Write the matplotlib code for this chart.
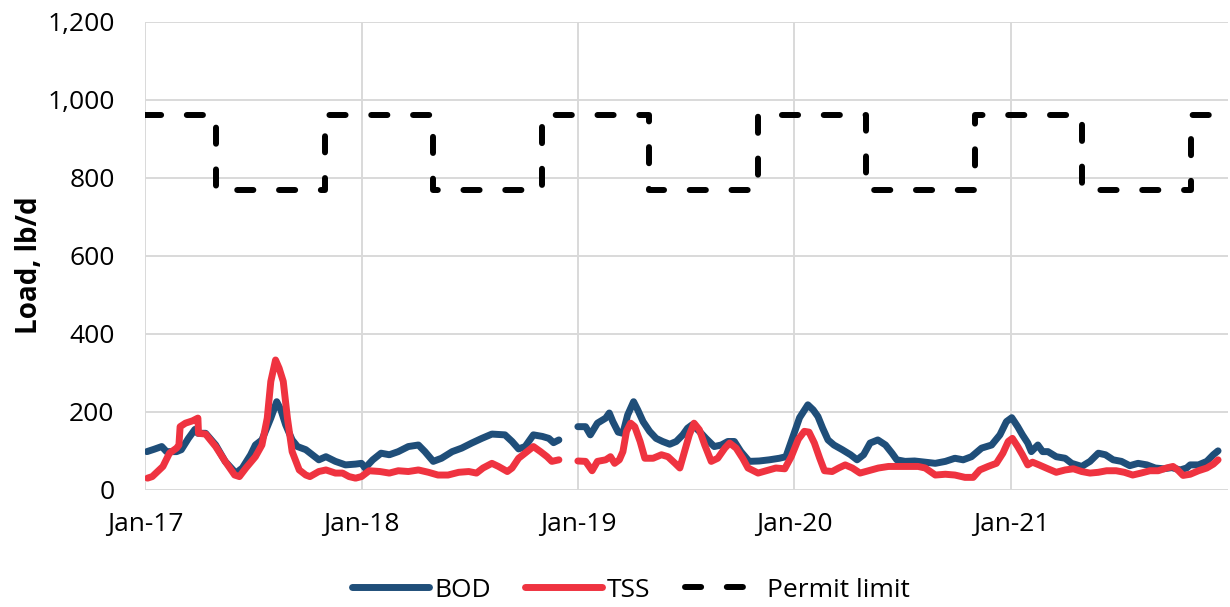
import numpy as np
import pandas as pd
import matplotlib
matplotlib.use("Agg")
import matplotlib.pyplot as plt
import matplotlib.dates as mdates
from matplotlib.ticker import FuncFormatter

# daily effluent loads, lb/d (sampled along the record)
bod_dates = [
    "2017-01-04", "2017-01-16", "2017-01-29", "2017-02-06", "2017-02-23", "2017-03-03", "2017-03-15",
    "2017-03-26", "2017-03-31", "2017-04-13", "2017-04-30", "2017-05-16", "2017-06-03",
    "2017-06-14", "2017-06-28", "2017-07-06", "2017-07-17", "2017-08-01", "2017-08-11",
    "2017-08-18", "2017-08-26", "2017-09-06", "2017-09-15", "2017-09-29", "2017-10-10",
    "2017-10-21", "2017-11-02", "2017-11-18", "2017-12-05", "2017-12-22", "2018-01-01",
    "2018-01-07", "2018-01-20", "2018-02-03", "2018-02-17", "2018-03-04", "2018-03-21",
    "2018-04-07", "2018-04-18", "2018-05-02", "2018-05-16", "2018-06-03", "2018-06-19",
    "2018-07-06", "2018-07-23", "2018-08-09", "2018-08-31", "2018-09-12", "2018-09-23",
    "2018-10-04", "2018-10-18", "2018-11-02", "2018-11-13", "2018-11-21", "2018-11-30",
    "2019-01-01", "2019-01-14", "2019-01-22", "2019-02-03", "2019-02-17", "2019-02-23",
    "2019-03-01", "2019-03-10", "2019-03-18", "2019-03-26", "2019-04-05", "2019-04-12",
    "2019-04-21", "2019-05-02", "2019-05-13", "2019-05-24", "2019-06-05", "2019-06-16",
    "2019-06-27", "2019-07-05", "2019-07-13", "2019-07-25", "2019-08-05", "2019-08-19",
    "2019-08-31", "2019-09-11", "2019-09-22", "2019-10-03", "2019-10-17", "2019-11-03",
    "2019-11-20", "2019-12-07", "2019-12-18", "2019-12-30", "2020-01-10", "2020-01-24",
    "2020-02-02", "2020-02-10", "2020-02-18", "2020-02-27", "2020-03-08", "2020-03-22",
    "2020-04-05", "2020-04-16", "2020-04-27", "2020-05-08", "2020-05-21", "2020-06-03",
    "2020-06-14", "2020-06-22", "2020-07-06", "2020-07-22", "2020-08-09", "2020-08-26",
    "2020-09-12", "2020-09-28", "2020-10-12", "2020-10-26", "2020-11-12", "2020-11-29",
    "2020-12-13", "2020-12-24", "2021-01-02", "2021-01-12", "2021-01-20", "2021-01-29",
    "2021-02-04", "2021-02-15", "2021-02-23", "2021-03-04", "2021-03-18", "2021-04-02",
    "2021-04-13", "2021-04-30", "2021-05-14", "2021-05-28", "2021-06-09", "2021-06-22",
    "2021-07-06", "2021-07-20", "2021-08-03", "2021-08-18", "2021-09-01", "2021-09-15",
    "2021-09-29", "2021-10-13", "2021-10-24", "2021-10-30", "2021-11-13", "2021-11-27",
    "2021-12-08", "2021-12-16",
]
bod_vals = [
    98, 104, 111, 98, 98, 103, 132, 155, 145, 145, 115, 73, 43,
    56, 90, 115, 128, 184, 226, 205, 167, 128, 111, 103, 90,
    77, 85, 73, 64, 66, 68, 56, 77, 94, 90, 98, 111,
    115, 98, 73, 81, 98, 107, 120, 132, 143, 141, 124, 105,
    111, 141, 137, 132, 121, 128, 162, 162, 141, 171, 184, 197,
    175, 148, 145, 192, 226, 205, 175, 150, 132, 124, 117, 124,
    141, 158, 167, 150, 132, 111, 115, 124, 124, 98, 73, 74,
    77, 81, 85, 137, 185, 218, 205, 188, 158, 128, 115, 103,
    90, 77, 90, 120, 128, 115, 94, 77, 73, 74, 71, 68,
    73, 81, 77, 85, 107, 115, 141, 175, 185, 162, 141, 120,
    98, 115, 98, 98, 85, 81, 68, 60, 73, 94, 90, 77,
    73, 62, 68, 64, 56, 54, 57, 51, 56, 64, 64, 73,
    90, 100,
]

tss_dates = [
    "2017-01-05", "2017-01-13", "2017-01-31", "2017-02-11", "2017-02-23", "2017-02-27",
    "2017-03-01", "2017-03-10", "2017-03-22", "2017-03-31", "2017-04-01", "2017-04-13",
    "2017-04-30", "2017-05-16", "2017-06-01", "2017-06-09", "2017-06-20", "2017-07-06",
    "2017-07-17", "2017-07-26", "2017-08-01", "2017-08-09", "2017-08-15", "2017-08-22",
    "2017-08-29", "2017-09-06", "2017-09-18", "2017-09-29", "2017-10-06", "2017-10-21",
    "2017-11-02", "2017-11-18", "2017-11-30", "2017-12-11", "2017-12-22", "2018-01-01",
    "2018-01-14", "2018-02-01", "2018-02-17", "2018-03-04", "2018-03-21", "2018-04-07",
    "2018-04-24", "2018-05-10", "2018-05-27", "2018-06-14", "2018-07-01", "2018-07-14",
    "2018-07-25", "2018-08-09", "2018-08-20", "2018-09-04", "2018-09-12", "2018-09-23",
    "2018-10-07", "2018-10-18", "2018-10-30", "2018-11-10", "2018-11-18", "2018-11-30",
    "2019-01-01", "2019-01-14", "2019-01-25", "2019-02-03", "2019-02-17", "2019-02-25",
    "2019-03-04", "2019-03-12", "2019-03-18", "2019-03-24", "2019-03-31", "2019-04-07",
    "2019-04-16", "2019-04-24", "2019-05-08", "2019-05-22", "2019-06-02", "2019-06-14",
    "2019-06-22", "2019-06-30", "2019-07-08", "2019-07-16", "2019-07-25", "2019-08-03",
    "2019-08-14", "2019-08-25", "2019-09-06", "2019-09-14", "2019-09-25", "2019-10-06",
    "2019-10-15", "2019-11-01", "2019-11-15", "2019-12-01", "2019-12-16", "2019-12-27",
    "2020-01-08", "2020-01-18", "2020-01-26", "2020-02-04", "2020-02-13", "2020-02-21",
    "2020-03-05", "2020-03-16", "2020-03-27", "2020-04-08", "2020-04-21", "2020-05-05",
    "2020-05-22", "2020-06-08", "2020-06-25", "2020-07-11", "2020-07-28", "2020-08-09",
    "2020-08-26", "2020-09-12", "2020-09-28", "2020-10-15", "2020-10-29", "2020-11-09",
    "2020-11-23", "2020-12-07", "2020-12-18", "2020-12-27", "2021-01-03", "2021-01-12",
    "2021-01-20", "2021-01-29", "2021-02-06", "2021-02-17", "2021-03-04", "2021-03-18",
    "2021-04-02", "2021-04-16", "2021-04-30", "2021-05-14", "2021-05-28", "2021-06-11",
    "2021-06-27", "2021-07-11", "2021-07-25", "2021-08-08", "2021-08-23", "2021-09-06",
    "2021-09-20", "2021-10-01", "2021-10-09", "2021-10-18", "2021-10-30", "2021-11-13",
    "2021-11-27", "2021-12-08", "2021-12-16",
]
tss_vals = [
    30, 34, 60, 94, 107, 115, 162, 171, 177, 184, 145, 143,
    111, 73, 38, 34, 56, 85, 115, 184, 278, 333, 312, 278,
    184, 98, 51, 38, 34, 47, 51, 43, 43, 34, 30, 34,
    49, 47, 43, 49, 47, 51, 45, 38, 38, 45, 47, 43,
    56, 68, 60, 47, 56, 81, 98, 111, 98, 85, 73, 77,
    74, 73, 49, 73, 77, 85, 68, 77, 98, 150, 171, 162,
    124, 81, 81, 90, 85, 68, 56, 98, 141, 171, 154, 115,
    73, 81, 107, 120, 107, 81, 56, 43, 49, 56, 54, 85,
    130, 150, 148, 120, 81, 49, 47, 56, 64, 56, 43, 49,
    56, 60, 60, 60, 60, 56, 38, 40, 38, 32, 32, 51,
    60, 68, 94, 124, 132, 111, 90, 64, 71, 64, 54, 45,
    51, 54, 47, 43, 45, 49, 49, 45, 38, 43, 49, 49,
    56, 60, 51, 37, 40, 49, 56, 66, 77,
]

# seasonal permit limit: winter (Nov-Apr) and summer (May-Oct)
permit_dates = [
    "2017-01-01", "2017-05-01", "2017-11-01", "2018-05-01", "2018-11-01",
    "2019-05-01", "2019-11-01", "2020-05-01", "2020-11-01", "2021-05-01",
    "2021-11-01", "2021-12-31",
]
permit_vals = [960, 770, 960, 770, 960, 770, 960, 770, 960, 770, 960, 960]

year_ticks = ["2017-01-01", "2018-01-01", "2019-01-01", "2020-01-01", "2021-01-01"]


def with_gaps(dates, vals, max_gap=30):
    # break the line where the record has a hole
    s = pd.Series(vals, index=pd.to_datetime(dates), dtype=float)
    gaps = s.index.to_series().diff() > pd.Timedelta(days=max_gap)
    for t in s.index[gaps.values]:
        s.loc[t - pd.Timedelta(days=1)] = np.nan
    return s.sort_index()


plt.rcParams['font.family'] = ['Open Sans', 'DejaVu Sans']
FS = 19

fig = plt.figure(figsize=(12.3, 6.07), dpi=100)
ax = fig.add_axes([0.118, 0.193, 0.88, 0.771])

bod = with_gaps(bod_dates, bod_vals)
tss = with_gaps(tss_dates, tss_vals)

ax.plot(bod.index, bod.values, color='#1f4e79', lw=5, label='BOD',
        solid_capstyle='round', solid_joinstyle='round')
ax.plot(tss.index, tss.values, color='#ef3340', lw=5, label='TSS',
        solid_capstyle='round', solid_joinstyle='round')
ax.plot(pd.to_datetime(permit_dates), permit_vals, color='black', lw=4.3,
        drawstyle='steps-post', linestyle=(0, (2.7, 4.3)),
        dash_capstyle='round', label='Permit limit')

ax.set_xlim(pd.Timestamp("2017-01-01"), pd.Timestamp("2022-01-01"))
ax.set_ylim(0, 1200)
ax.set_yticks(range(0, 1201, 200))
ax.yaxis.set_major_formatter(FuncFormatter(lambda v, p: f"{int(v):,}"))
ax.set_xticks(pd.to_datetime(year_ticks))
ax.xaxis.set_major_formatter(mdates.DateFormatter('%b-%y'))

ax.grid(True, color='#d9d9d9', lw=1.4)
ax.set_axisbelow(True)
for sp in ax.spines.values():
    sp.set_visible(False)
ax.tick_params(axis='both', length=0, labelsize=FS, colors='black')
ax.tick_params(axis='y', pad=22)
ax.tick_params(axis='x', pad=16)

fig.text(0.024, 0.563, 'Load, lb/d', rotation=90, ha='center', va='center',
         fontsize=FS + 1, fontweight='bold')

fig.legend(loc='center', bbox_to_anchor=(0.513, 0.028), ncol=3, frameon=False,
           fontsize=FS, handlelength=2.9, columnspacing=1.3, handletextpad=0.2)

fig.savefig('out.png', dpi=100)
